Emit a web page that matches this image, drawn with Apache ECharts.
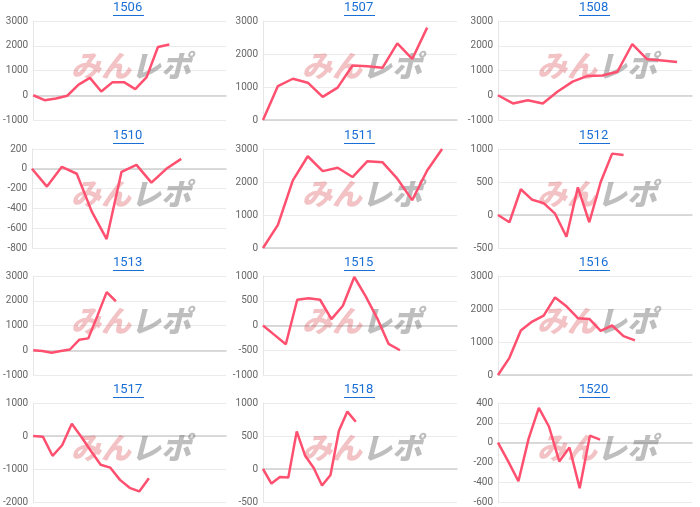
<!DOCTYPE html>
<html><head><meta charset="utf-8">
<script src="https://cdn.jsdelivr.net/npm/echarts@6/dist/echarts.min.js"></script>
<style>html,body{margin:0;background:#fff}#c{width:700px;height:507px}</style>
</head><body><div id="c"></div>
<script>
// panel names, in reading order
var names = ['1506', '1507', '1508', '1510', '1511', '1512', '1513', '1515', '1516', '1517', '1518', '1520'];
// number of x categories per panel
var catCounts = [18, 14, 14, 14, 14, 18, 22, 18, 18, 21, 24, 20];
// y axis ranges [min, max, interval]
var yRanges = [
  [-1000, 3000, 1000], [0, 3000, 1000], [-1000, 3000, 1000],
  [-800, 200, 200], [0, 3000, 1000], [-500, 1000, 500],
  [-1000, 3000, 1000], [-1000, 1000, 500], [0, 3000, 1000],
  [-2000, 1000, 1000], [-500, 1000, 500], [-600, 400, 200]
];
var s1506 = [0, -200, -130, -20, 430, 700, 150, 530, 530, 250, 730, 1950, 2050];
var s1507 = [0, 1030, 1250, 1130, 700, 980, 1650, 1630, 1580, 2320, 1850, 2800];
var s1508 = [0, -330, -200, -330, 150, 550, 780, 800, 950, 2070, 1450, 1400, 1340];
var s1510 = [0, -180, 20, -50, -430, -710, -30, 40, -140, 0, 100];
var s1511 = [0, 700, 2050, 2780, 2330, 2430, 2150, 2630, 2600, 2100, 1450, 2350, 3000];
var s1512 = [0, -110, 390, 230, 180, 20, -330, 420, -110, 500, 930, 910];
var s1513 = [0, -30, -100, -30, 30, 420, 480, 1400, 2350, 1980];
var s1515 = [0, -190, -380, 520, 550, 520, 130, 400, 980, 590, 150, -370, -500];
var s1516 = [0, 520, 1350, 1620, 1800, 2350, 2080, 1720, 1700, 1340, 1500, 1180, 1050];
var s1517 = [0, -20, -600, -280, 370, -30, -460, -870, -960, -1330, -1570, -1680, -1280];
var s1518 = [0, -220, -120, -130, 570, 200, 20, -250, -90, 580, 870, 715];
var s1520 = [0, -190, -390, 40, 350, 160, -190, -50, -460, 70, 30];
var seriesData = [s1506, s1507, s1508, s1510, s1511, s1512, s1513, s1515, s1516, s1517, s1518, s1520];

var colLeft = [32, 263, 498], rowTop = [21, 149, 276, 403];
var gw = 194, gh = 99;
var grids = [], xAxes = [], yAxes = [], series = [], graphics = [];

names.forEach(function (name, i) {
  var left = colLeft[i % 3], top = rowTop[Math.floor(i / 3)];
  var cats = [];
  for (var k = 0; k < catCounts[i]; k++) cats.push(String(k + 1));
  grids.push({left: left, top: top, width: gw, height: gh});
  xAxes.push({
    type: 'category', gridIndex: i, data: cats, boundaryGap: false,
    axisLabel: {show: false}, axisTick: {show: false},
    axisLine: {onZero: true, lineStyle: {color: '#d0d0d0', width: 1.5}}
  });
  yAxes.push({
    type: 'value', gridIndex: i,
    min: yRanges[i][0], max: yRanges[i][1], interval: yRanges[i][2],
    axisLine: {show: true, lineStyle: {color: '#e6e6e6'}}, axisTick: {show: false},
    axisLabel: {color: '#666', fontSize: 10, margin: 5, fontFamily: 'Roboto',
      formatter: function (v) { return String(v); }},
    splitLine: {lineStyle: {color: '#ebebeb'}}
  });
  series.push({
    type: 'line', xAxisIndex: i, yAxisIndex: i, data: seriesData[i],
    showSymbol: false, lineStyle: {color: '#ff5070', width: 2.5}, z: 5
  });
  var cx = left + gw / 2;
  // title with underline
  graphics.push({
    type: 'text', left: cx - 16, top: top - 20, z: 10,
    style: {text: name, fill: '#1a6fd6', font: '13px Roboto'}
  });
  graphics.push({
    type: 'rect', shape: {x: cx - 16, y: top - 6, width: 31, height: 1}, z: 10,
    style: {fill: '#1a6fd6'}
  });
  // watermark
  graphics.push({
    type: 'text', left: cx - 58, top: top + gh / 2 - 20, z: 1,
    style: {
      text: '{a|みん}{b|レポ}',
      rich: {
        a: {fill: 'rgba(215,70,80,0.33)', font: 'italic 900 30px "Noto Sans CJK JP"'},
        b: {fill: 'rgba(110,110,110,0.45)', font: 'italic 900 30px "Noto Sans CJK JP"'}
      }
    }
  });
});

var chart = echarts.init(document.getElementById('c'));
chart.setOption({
  animation: false,
  grid: grids, xAxis: xAxes, yAxis: yAxes, series: series, graphic: graphics
});
</script>
</body></html>
